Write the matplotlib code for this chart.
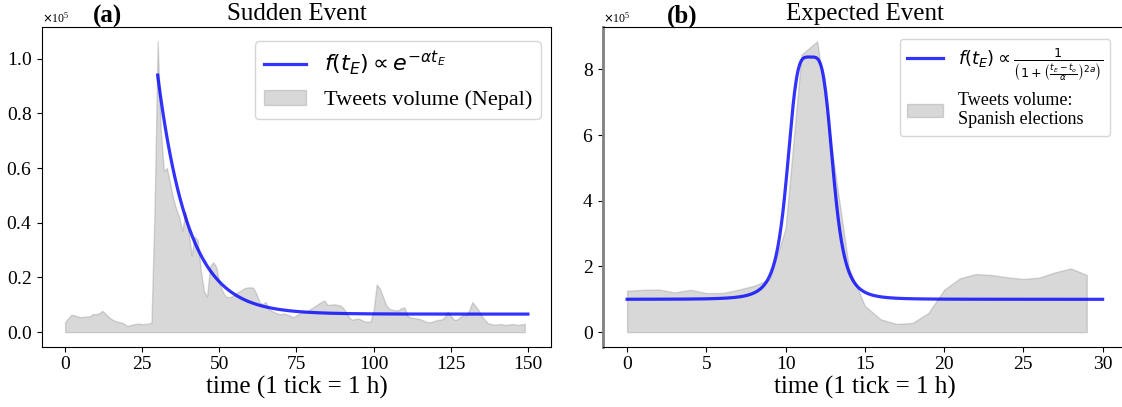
"""Sudden vs expected event: tweet volume with fitted models."""

import matplotlib
matplotlib.use("Agg")

import matplotlib.pyplot as plt
import numpy as np
from matplotlib.ticker import ScalarFormatter

plt.rcParams.update({
    "font.family": "serif",
    "font.serif": ["Liberation Serif", "DejaVu Serif"],
    "mathtext.fontset": "dejavusans",
})

SCALE = 1e5

# ── Panel (a): Nepal earthquake, hourly tweets (x 1e5) ──────────────────────
nepal_hours = list(range(150))
nepal_volume = [
    0.037, 0.050, 0.063, 0.062, 0.057, 0.055, 0.056, 0.057, 0.058, 0.066,
    0.066, 0.068, 0.078, 0.068, 0.057, 0.048, 0.042, 0.038, 0.036, 0.032,
    0.023, 0.025, 0.028, 0.030, 0.031, 0.029, 0.030, 0.031, 0.036, 0.450,
    1.064, 0.740, 0.590, 0.600, 0.545, 0.490, 0.450, 0.420, 0.370, 0.440,
    0.370, 0.280, 0.350, 0.335, 0.225, 0.150, 0.130, 0.240, 0.256, 0.238,
    0.180, 0.150, 0.130, 0.128, 0.130, 0.138, 0.146, 0.152, 0.160, 0.163,
    0.164, 0.162, 0.140, 0.110, 0.102, 0.110, 0.085, 0.077, 0.072, 0.067,
    0.066, 0.068, 0.064, 0.060, 0.054, 0.062, 0.068, 0.073, 0.077, 0.080,
    0.088, 0.095, 0.103, 0.110, 0.116, 0.100, 0.100, 0.102, 0.100, 0.098,
    0.090, 0.075, 0.055, 0.045, 0.048, 0.050, 0.045, 0.039, 0.038, 0.038,
    0.080, 0.174, 0.160, 0.130, 0.100, 0.086, 0.082, 0.080, 0.080, 0.088,
    0.090, 0.060, 0.053, 0.052, 0.050, 0.048, 0.043, 0.038, 0.036, 0.038,
    0.042, 0.045, 0.046, 0.055, 0.075, 0.060, 0.045, 0.045, 0.055, 0.062,
    0.062, 0.080, 0.110, 0.095, 0.080, 0.060, 0.045, 0.033, 0.030, 0.027,
    0.028, 0.030, 0.028, 0.026, 0.028, 0.030, 0.028, 0.026, 0.029, 0.030,
]

# exponential decay fit
nepal_fit_start, nepal_fit_end = 30, 150
nepal_fit_a0 = 0.94      # value at fit start (x 1e5)
nepal_fit_floor = 0.066  # asymptote (x 1e5)
nepal_fit_alpha = 0.10

# ── Panel (b): Spanish elections, hourly tweets (x 1e5) ─────────────────────
spain_hours = list(range(30))
spain_volume = [
    1.26, 1.29, 1.30, 1.21, 1.29, 1.19, 1.19, 1.29, 1.41, 1.61,
    3.16, 8.45, 8.86, 5.30, 1.95, 0.80, 0.39, 0.25, 0.28, 0.58,
    1.29, 1.64, 1.77, 1.74, 1.67, 1.62, 1.66, 1.82, 1.94, 1.74,
]

# generalised bell fit
spain_fit_start, spain_fit_end = 0, 30
spain_fit_base = 1.0
spain_fit_peak = 8.38
spain_fit_t0 = 11.55
spain_fit_width = 1.5
spain_fit_power = 4.2   # the 2a exponent

LINE_COLOR = "blue"
FILL_COLOR = "grey"


def style_axis(ax):
    ax.tick_params(labelsize=14)
    fmt = ScalarFormatter(useMathText=True)
    fmt.set_powerlimits((0, 0))
    ax.yaxis.set_major_formatter(fmt)
    ax.yaxis.get_offset_text().set_fontsize(8.5)
    ax.set_xlabel("time (1 tick = 1 h)", fontsize=18, labelpad=2)


fig = plt.figure(figsize=(11.22, 4.07), dpi=100)
ax1 = fig.add_axes([0.0374, 0.1482, 0.4537, 0.7862])
ax2 = fig.add_axes([0.5377, 0.1482, 0.4662, 0.7862])

# Panel (a)
t = np.linspace(nepal_fit_start, nepal_fit_end, 300)
fit_a = nepal_fit_floor + (nepal_fit_a0 - nepal_fit_floor) * np.exp(-nepal_fit_alpha * (t - nepal_fit_start))
ax1.plot(t, fit_a * SCALE, color=LINE_COLOR, alpha=0.8, lw=2.3,
         label=r"$f(t_E) \propto e^{-\alpha t_E}$")
ax1.fill_between(nepal_hours, np.array(nepal_volume) * SCALE, color=FILL_COLOR, alpha=0.3,
                 label="Tweets volume (Nepal)")
ax1.set_xticks([0, 25, 50, 75, 100, 125, 150])
ax1.set_yticks(np.arange(0, 1.01, 0.2) * SCALE)
style_axis(ax1)
ax1.set_title("Sudden Event", fontsize=18, pad=5)
ax1.text(0.128, 1.014, "(a)", transform=ax1.transAxes, fontsize=18,
         fontweight="bold", ha="center", va="baseline")
ax1.legend(loc="upper right", bbox_to_anchor=(0.98, 0.955), borderaxespad=0,
           fontsize=16, handlelength=1.9)

# Panel (b)
t = np.linspace(spain_fit_start, spain_fit_end, 600)
fit_b = spain_fit_base + (spain_fit_peak - spain_fit_base) / (
    1 + np.abs((t - spain_fit_t0) / spain_fit_width) ** spain_fit_power)
ax2.plot(t, fit_b * SCALE, color=LINE_COLOR, alpha=0.8, lw=2.3,
         label=r"$f(t_E) \propto \frac{1}{\left(1+\left(\frac{t_E-t_o}{\alpha}\right)^{2a}\right)}$")
ax2.fill_between(spain_hours, np.array(spain_volume) * SCALE, color=FILL_COLOR, alpha=0.3,
                 label="Tweets volume:\nSpanish elections")
ax2.set_xticks([0, 5, 10, 15, 20, 25, 30])
ax2.set_yticks(np.arange(0, 8.1, 2) * SCALE)
style_axis(ax2)
ax2.spines["left"].set_color("grey")
ax2.spines["left"].set_linewidth(2)
ax2.set_title("Expected Event", fontsize=18, pad=5)
ax2.text(0.151, 1.014, "(b)", transform=ax2.transAxes, fontsize=18,
         fontweight="bold", ha="center", va="baseline")
ax2.legend(loc="upper right", bbox_to_anchor=(0.969, 0.9625), borderaxespad=0,
           fontsize=13, handlelength=2.0)

fig.savefig("out.png", dpi=100)
